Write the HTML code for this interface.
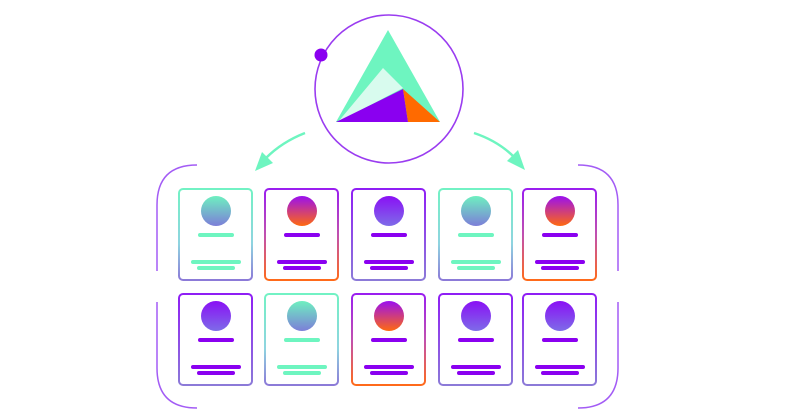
<!DOCTYPE html>
<html><head><meta charset="utf-8"><style>html,body{margin:0;padding:0;background:#fff;width:800px;height:420px;overflow:hidden}</style></head><body>
<svg width="800" height="420" viewBox="0 0 800 420" xmlns="http://www.w3.org/2000/svg">
<defs>
<linearGradient id="bt" x1="0" y1="0" x2="0" y2="1"><stop offset="0" stop-color="#72f2c4"/><stop offset="0.6" stop-color="#8fd4e0"/><stop offset="1" stop-color="#8c7ad8"/></linearGradient>
<linearGradient id="bo" x1="0" y1="0" x2="0" y2="1"><stop offset="0" stop-color="#9a1ef0"/><stop offset="0.5" stop-color="#c050b0"/><stop offset="1" stop-color="#ff6a1a"/></linearGradient>
<linearGradient id="bp" x1="0" y1="0" x2="0" y2="1"><stop offset="0" stop-color="#8f1ef5"/><stop offset="1" stop-color="#8c7ad8"/></linearGradient>
<linearGradient id="ct" x1="0" y1="0" x2="0" y2="1"><stop offset="0" stop-color="#6ef0c0"/><stop offset="1" stop-color="#7c7ed8"/></linearGradient>
<linearGradient id="co" x1="0" y1="0" x2="0" y2="1"><stop offset="0" stop-color="#9a10f0"/><stop offset="1" stop-color="#ff6a10"/></linearGradient>
<linearGradient id="cp" x1="0" y1="0" x2="0" y2="1"><stop offset="0" stop-color="#8a10f5"/><stop offset="1" stop-color="#7e6ce8"/></linearGradient>
</defs>
<!-- top circle -->
<circle cx="389" cy="89" r="74" fill="#fff" stroke="#9a3cf0" stroke-width="1.6"/>
<circle cx="321" cy="55" r="6.5" fill="#8a00f0"/>
<polygon points="388,30 336,122 440,122" fill="#6ef5c0"/>
<polygon points="383,68 338,122 403,88" fill="#d8fbee"/>
<polygon points="336,122 403,89 408,122" fill="#8a00f0"/>
<polygon points="403,89 440,122 408,122" fill="#ff6a00"/>
<!-- arrows -->
<path d="M305,133 Q282,142 266,158" fill="none" stroke="#6ef5c0" stroke-width="2.5"/>
<polygon points="255,171 262,152 273,163" fill="#6ef5c0"/>
<path d="M474,133 Q498,141 514,157" fill="none" stroke="#6ef5c0" stroke-width="2.5"/>
<polygon points="525,170 507,161 518,150" fill="#6ef5c0"/>
<!-- brackets -->
<g fill="none" stroke="#a35cf5" stroke-width="1.5">
<path d="M197,165 Q157,165 157,205 L157,271"/>
<path d="M157,302 L157,368 Q157,408 197,408"/>
<path d="M578,165 Q618,165 618,205 L618,271"/>
<path d="M618,302 L618,368 Q618,408 578,408"/>
</g>
<g stroke-linecap="round">
<!-- row 1 -->
<g transform="translate(178,188)"><rect x="1" y="1" width="73" height="91" rx="4" fill="#fff" stroke="url(#bt)" stroke-width="2"/><circle cx="38" cy="23" r="15" fill="url(#ct)"/><line x1="22" y1="47" x2="54" y2="47" stroke="#6ef5c0" stroke-width="4"/><line x1="15" y1="74" x2="61" y2="74" stroke="#6ef5c0" stroke-width="4"/><line x1="21" y1="80" x2="55" y2="80" stroke="#6ef5c0" stroke-width="4"/></g>
<g transform="translate(264,188)"><rect x="1" y="1" width="73" height="91" rx="4" fill="#fff" stroke="url(#bo)" stroke-width="2"/><circle cx="38" cy="23" r="15" fill="url(#co)"/><line x1="22" y1="47" x2="54" y2="47" stroke="#8a00f0" stroke-width="4"/><line x1="15" y1="74" x2="61" y2="74" stroke="#8a00f0" stroke-width="4"/><line x1="21" y1="80" x2="55" y2="80" stroke="#8a00f0" stroke-width="4"/></g>
<g transform="translate(351,188)"><rect x="1" y="1" width="73" height="91" rx="4" fill="#fff" stroke="url(#bp)" stroke-width="2"/><circle cx="38" cy="23" r="15" fill="url(#cp)"/><line x1="22" y1="47" x2="54" y2="47" stroke="#8a00f0" stroke-width="4"/><line x1="15" y1="74" x2="61" y2="74" stroke="#8a00f0" stroke-width="4"/><line x1="21" y1="80" x2="55" y2="80" stroke="#8a00f0" stroke-width="4"/></g>
<g transform="translate(438,188)"><rect x="1" y="1" width="73" height="91" rx="4" fill="#fff" stroke="url(#bt)" stroke-width="2"/><circle cx="38" cy="23" r="15" fill="url(#ct)"/><line x1="22" y1="47" x2="54" y2="47" stroke="#6ef5c0" stroke-width="4"/><line x1="15" y1="74" x2="61" y2="74" stroke="#6ef5c0" stroke-width="4"/><line x1="21" y1="80" x2="55" y2="80" stroke="#6ef5c0" stroke-width="4"/></g>
<g transform="translate(522,188)"><rect x="1" y="1" width="73" height="91" rx="4" fill="#fff" stroke="url(#bo)" stroke-width="2"/><circle cx="38" cy="23" r="15" fill="url(#co)"/><line x1="22" y1="47" x2="54" y2="47" stroke="#8a00f0" stroke-width="4"/><line x1="15" y1="74" x2="61" y2="74" stroke="#8a00f0" stroke-width="4"/><line x1="21" y1="80" x2="55" y2="80" stroke="#8a00f0" stroke-width="4"/></g>
<!-- row 2 -->
<g transform="translate(178,293)"><rect x="1" y="1" width="73" height="91" rx="4" fill="#fff" stroke="url(#bp)" stroke-width="2"/><circle cx="38" cy="23" r="15" fill="url(#cp)"/><line x1="22" y1="47" x2="54" y2="47" stroke="#8a00f0" stroke-width="4"/><line x1="15" y1="74" x2="61" y2="74" stroke="#8a00f0" stroke-width="4"/><line x1="21" y1="80" x2="55" y2="80" stroke="#8a00f0" stroke-width="4"/></g>
<g transform="translate(264,293)"><rect x="1" y="1" width="73" height="91" rx="4" fill="#fff" stroke="url(#bt)" stroke-width="2"/><circle cx="38" cy="23" r="15" fill="url(#ct)"/><line x1="22" y1="47" x2="54" y2="47" stroke="#6ef5c0" stroke-width="4"/><line x1="15" y1="74" x2="61" y2="74" stroke="#6ef5c0" stroke-width="4"/><line x1="21" y1="80" x2="55" y2="80" stroke="#6ef5c0" stroke-width="4"/></g>
<g transform="translate(351,293)"><rect x="1" y="1" width="73" height="91" rx="4" fill="#fff" stroke="url(#bo)" stroke-width="2"/><circle cx="38" cy="23" r="15" fill="url(#co)"/><line x1="22" y1="47" x2="54" y2="47" stroke="#8a00f0" stroke-width="4"/><line x1="15" y1="74" x2="61" y2="74" stroke="#8a00f0" stroke-width="4"/><line x1="21" y1="80" x2="55" y2="80" stroke="#8a00f0" stroke-width="4"/></g>
<g transform="translate(438,293)"><rect x="1" y="1" width="73" height="91" rx="4" fill="#fff" stroke="url(#bp)" stroke-width="2"/><circle cx="38" cy="23" r="15" fill="url(#cp)"/><line x1="22" y1="47" x2="54" y2="47" stroke="#8a00f0" stroke-width="4"/><line x1="15" y1="74" x2="61" y2="74" stroke="#8a00f0" stroke-width="4"/><line x1="21" y1="80" x2="55" y2="80" stroke="#8a00f0" stroke-width="4"/></g>
<g transform="translate(522,293)"><rect x="1" y="1" width="73" height="91" rx="4" fill="#fff" stroke="url(#bp)" stroke-width="2"/><circle cx="38" cy="23" r="15" fill="url(#cp)"/><line x1="22" y1="47" x2="54" y2="47" stroke="#8a00f0" stroke-width="4"/><line x1="15" y1="74" x2="61" y2="74" stroke="#8a00f0" stroke-width="4"/><line x1="21" y1="80" x2="55" y2="80" stroke="#8a00f0" stroke-width="4"/></g>
</g>
</svg>
</body></html>
